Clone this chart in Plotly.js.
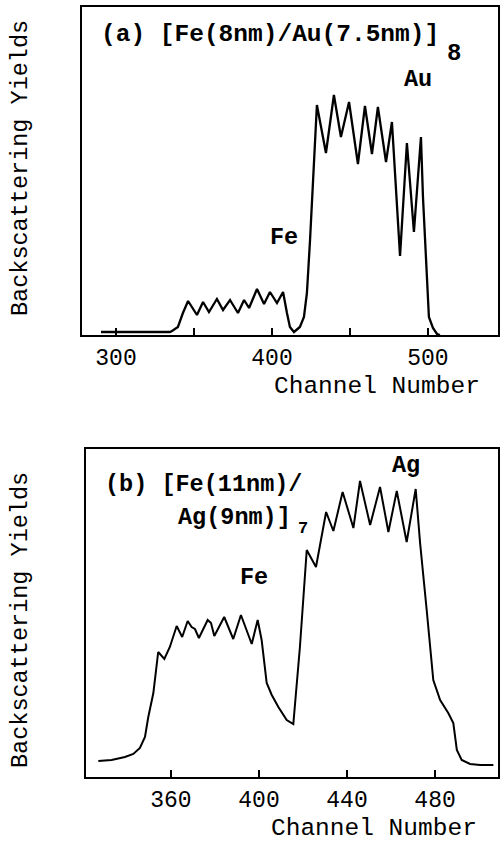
<!DOCTYPE html>
<html><head><meta charset="utf-8">
<script src="https://cdn.plot.ly/plotly-3.0.1.min.js"></script>
<style>html,body{margin:0;padding:0;background:#fff}#chart{width:500px;height:844px}</style>
</head><body><div id="chart"></div>
<script>
// Panel (a): [Fe(8nm)/Au(7.5nm)]8
const channelA = [290.4, 334.6, 335.9, 339.7, 342.9, 346.2, 351.9, 355.8, 359.6, 364.7, 368.6, 373.1, 378.2, 382.1, 385.3, 390.4, 394.9, 398.7, 403.2, 407.1, 409.6, 411.5, 414.1, 417.9, 420.5, 422.4, 424.4, 426.3, 428.8, 434.6, 439.7, 444.2, 449.4, 455.1, 459.6, 464.1, 467.9, 473.1, 476.9, 482.1, 486.5, 491.0, 495.5, 496.8, 499.4, 500.6, 503.2, 505.8, 507.7];
const yieldA = [3, 3, 4, 8, 22, 34, 20, 33, 23, 36, 25, 35, 22, 35, 27, 46, 31, 43, 32, 43, 22, 8, 3, 8, 18, 42, 95, 155, 230, 182, 240, 198, 233, 171, 229, 181, 228, 173, 213, 79, 192, 103, 198, 138, 55, 18, 7, 1, 0];
// Panel (b): [Fe(11nm)/Ag(9nm)]7
const channelB = [327.0, 333.0, 339.1, 342.9, 345.9, 348.2, 349.7, 352.0, 354.2, 357.0, 359.5, 362.6, 365.1, 367.6, 369.4, 370.9, 372.7, 376.7, 378.2, 379.7, 384.2, 388.3, 391.8, 396.7, 399.4, 401.2, 403.5, 405.8, 408.8, 412.6, 415.6, 418.6, 421.7, 425.9, 430.5, 433.8, 438.0, 442.9, 445.9, 450.5, 455.0, 458.8, 462.6, 467.1, 471.2, 473.2, 476.2, 479.2, 482.3, 486.0, 488.3, 489.9, 492.1, 495.9, 500.5, 506.5];
const yieldB = [16, 17, 20, 23, 29, 40, 60, 84, 125, 118, 130, 151, 140, 156, 150, 148, 139, 157, 154, 141, 160, 138, 162, 133, 157, 137, 94, 82, 70, 57, 53, 130, 227, 210, 265, 246, 285, 249, 296, 252, 290, 245, 286, 235, 288, 234, 167, 97, 77, 64, 54, 27, 17, 13, 12, 12];

const tickValsA = [300, 400, 500];
const tickTextA = ['300', '400', '500'];
const minorTickValsA = [350, 450];
const tickValsB = [360, 400, 440, 480];
const tickTextB = ['360', '400', '440', '480'];

const W = 500, H = 844;
const FONT = 'Liberation Mono, Courier New, monospace';
const px = v => v / W;
const py = v => 1 - v / H;

function xax(dom, range, tv, tt, anchor, minorVals) {
  const a = {domain: dom, range: range, anchor: anchor, showline: true, mirror: true, linewidth: 2, linecolor: '#000',
    ticks: 'inside', ticklen: 7, tickwidth: 2, tickcolor: '#000', tickmode: 'array', tickvals: tv, ticktext: tt,
    showgrid: false, zeroline: false, fixedrange: true,
    tickfont: {family: FONT, size: 23, color: '#000'}};
  if (minorVals) {
    a.minor = {tickmode: 'array', tickvals: minorVals, ticks: 'inside', ticklen: 7, tickwidth: 2, tickcolor: '#000', showgrid: false};
  }
  return a;
}
function yax(dom, anchor) {
  return {domain: dom, range: [0, 328], anchor: anchor, showline: true, mirror: true, linewidth: 2, linecolor: '#000',
    ticks: '', showticklabels: false, showgrid: false, zeroline: false, fixedrange: true};
}
function ann(text, x, y, opts) {
  return Object.assign({text: text, xref: 'paper', yref: 'paper', x: px(x), y: py(y), showarrow: false,
    xanchor: 'center', yanchor: 'middle', font: {family: FONT, size: 23, color: '#000'}}, opts || {});
}
const bold = s => ({family: FONT, size: s, color: '#000', weight: 'bold'});
const reg = s => ({family: FONT, size: s, color: '#000'});

const traces = [
  {x: channelA, y: yieldA, xaxis: 'x', yaxis: 'y', mode: 'lines', line: {color: '#000', width: 2.3}, hoverinfo: 'skip'},
  {x: channelB, y: yieldB, xaxis: 'x2', yaxis: 'y2', mode: 'lines', line: {color: '#000', width: 2}, hoverinfo: 'skip'}
];

const layout = {
  width: W, height: H, margin: {l: 0, r: 0, t: 0, b: 0}, showlegend: false,
  paper_bgcolor: '#fff', plot_bgcolor: '#fff',
  xaxis: xax([px(82), px(498)], [278.2, 544.9], tickValsA, tickTextA, 'y', minorTickValsA),
  yaxis: yax([py(335), py(7)], 'x'),
  xaxis2: xax([px(86), px(498)], [321.4, 508.6], tickValsB, tickTextB, 'y2'),
  yaxis2: yax([py(777), py(449)], 'x2'),
  annotations: [
    ann('(a) [Fe(8nm)/Au(7.5nm)]', 99, 35, {xanchor: 'left', font: bold(24.5)}),
    ann('8', 454, 53, {font: bold(24)}),
    ann('Au', 418, 80, {font: bold(23.5)}),
    ann('Fe', 284, 238, {font: bold(23.5)}),
    ann('Channel Number', 377, 387, {font: reg(24.5)}),
    ann('Backscattering Yields', 20, 168, {textangle: -90, font: reg(23.5)}),
    ann('(b) [Fe(11nm)/', 103, 485, {xanchor: 'left', font: bold(23.5)}),
    ann('Ag(9nm)]', 176, 517, {xanchor: 'left', font: bold(23.5)}),
    ann('7', 303, 528, {font: bold(17)}),
    ann('Ag', 406, 465, {font: bold(23.5)}),
    ann('Fe', 254, 577, {font: bold(23.5)}),
    ann('Channel Number', 374, 844, {yanchor: 'bottom', font: reg(24.5)}),
    ann('Backscattering Yields', 20, 620, {textangle: -90, font: reg(23.5)})
  ]
};

Plotly.newPlot('chart', traces, layout, {staticPlot: true, displayModeBar: false});
</script>
</body></html>
